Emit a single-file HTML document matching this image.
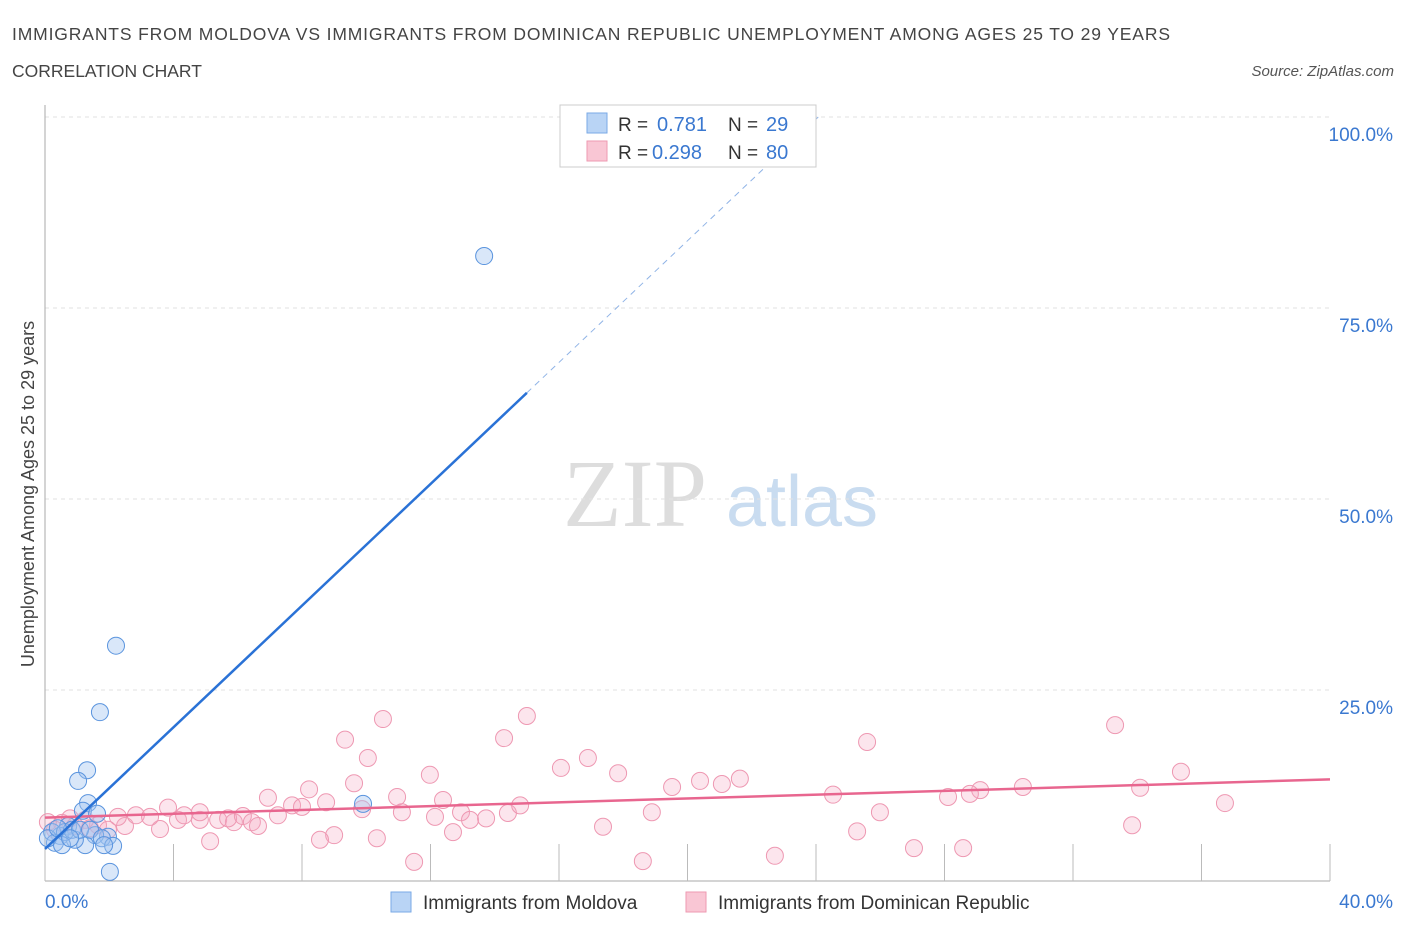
<!DOCTYPE html>
<html><head><meta charset="utf-8"><style>
body{margin:0;background:#fff;font-family:"Liberation Sans",sans-serif;}
</style></head><body>
<svg id="chart" width="1406" height="930" xmlns="http://www.w3.org/2000/svg" font-family="Liberation Sans, sans-serif">
<text x="12" y="40" font-size="17.5" fill="#444" textLength="1158">IMMIGRANTS FROM MOLDOVA VS IMMIGRANTS FROM DOMINICAN REPUBLIC UNEMPLOYMENT AMONG AGES 25 TO 29 YEARS</text>
<text x="12" y="77" font-size="17.5" fill="#444">CORRELATION CHART</text>
<text x="1394" y="76" font-size="15" fill="#555" font-style="italic" text-anchor="end">Source: ZipAtlas.com</text>
<g>
<text x="635" y="526" font-size="96" fill="#ddd" style="font-family:'Liberation Serif',serif" text-anchor="middle">ZIP</text>
<text x="802" y="526" font-size="72" fill="#c9dcf0" text-anchor="middle">atlas</text>
</g>
<g id="grid"></g>
<g id="axes"></g>
<g id="marks"></g>
<text transform="translate(34,494) rotate(-90)" font-size="18" fill="#444" text-anchor="middle">Unemployment Among Ages 25 to 29 years</text>
<g>
<rect x="560" y="105" width="256" height="62" fill="#fff" stroke="#ccc"/>
<rect x="587" y="113" width="20" height="20" fill="#b9d4f5" stroke="#7aaae6"/>
<rect x="587" y="141" width="20" height="20" fill="#f9c6d4" stroke="#ee9ab2"/>
<text x="618" y="131" font-size="19" fill="#333">R = </text><text x="657" y="131" font-size="20" fill="#3a78d0">0.781</text>
<text x="728" y="131" font-size="19" fill="#333">N = </text><text x="766" y="131" font-size="20" fill="#3a78d0">29</text>
<text x="618" y="159" font-size="19" fill="#333">R = </text><text x="652" y="159" font-size="20" fill="#3a78d0">0.298</text>
<text x="728" y="159" font-size="19" fill="#333">N = </text><text x="766" y="159" font-size="20" fill="#3a78d0">80</text>
</g>
<g>
<rect x="391" y="892" width="20" height="20" fill="#b9d4f5" stroke="#7aaae6"/>
<text x="423" y="909" font-size="19" fill="#333">Immigrants from Moldova</text>
<rect x="686" y="892" width="20" height="20" fill="#f9c6d4" stroke="#ee9ab2"/>
<text x="718" y="909" font-size="19" fill="#333">Immigrants from Dominican Republic</text>
</g>
</svg>
<script>
const yTicks=[25,50,75,100];
const yTickLabels=["25.0%","50.0%","75.0%","100.0%"];
const xTicks=[0,4,8,12,16,20,24,28,32,36,40];
const moldovaX=[13.67,2.21,1.71,1.31,1.03,1.34,1.18,1.62,9.9,2.02,1.96,1.56,1.25,0.93,0.72,0.47,0.22,0.31,0.09,0.62,0.84,0.53,1.09,1.4,1.77,2.12,1.84,0.4,0.78];
const moldovaY=[81.8,30.8,22.1,14.5,13.1,10.2,9.2,8.8,10.1,1.2,5.8,6.0,4.7,5.4,7.2,5.9,6.4,5.0,5.6,6.4,6.7,4.7,6.7,6.7,5.6,4.6,4.7,6.9,5.6];
const pinkPx=[[383,719],[345,740],[368,758],[504,738],[527,716],[561,768],[588,758],[618,773],[672,787],[700,781],[722,784],[740,779],[867,742],[1115,725],[1181,772],[1140,788],[1225,803],[1023,787],[980,790],[970,794],[948,797],[833,795],[880,812],[857,831],[914,848],[963,848],[775,856],[1132,825],[643,861],[603,827],[652,812],[430,775],[354,783],[309,789],[268,798],[292,805],[326,802],[302,807],[362,809],[397,797],[402,812],[443,800],[461,812],[435,817],[470,820],[486,818],[508,813],[520,805],[453,832],[414,862],[377,838],[334,835],[320,840],[210,841],[160,829],[125,826],[98,825],[118,817],[136,815],[150,817],[168,808],[178,820],[184,815],[200,820],[218,820],[234,822],[228,818],[243,816],[252,822],[258,826],[278,815],[75,826],[62,823],[55,830],[48,822],[85,820],[108,830],[70,818],[90,828],[200,812]];
const domX=pinkPx.map(p=>+((p[0]-45)/1285*40).toFixed(2));
const domY=pinkPx.map(p=>+((881-p[1])/7.64).toFixed(1));
const moldovaTrend=[4.2,3.98];
const domTrend=[8.3,0.125];
const X0=45,X1=1330,Y0=881,Y1=117;
const xs=v=>X0+v/40*(X1-X0);
const ys=v=>Y0-v/100*(Y0-Y1);
const NS="http://www.w3.org/2000/svg";
function mk(tag,attrs,parent){const e=document.createElementNS(NS,tag);for(const k in attrs)e.setAttribute(k,attrs[k]);parent.appendChild(e);return e;}
const grid=document.getElementById('grid'),axes=document.getElementById('axes'),marks=document.getElementById('marks');
yTicks.forEach((t,i)=>{
 const l=mk('line',{x1:X0,x2:X1,y1:ys(t),y2:ys(t),stroke:'#e2e2e2','stroke-dasharray':'4,4'},grid);
 
 
 const tx=mk('text',{x:1393,y:ys(t)+24,'font-size':19,fill:'#3a78d0','text-anchor':'end'},axes);
 tx.textContent=yTickLabels[i];
 
 
});
mk('line',{x1:X0,x2:X0,y1:105,y2:Y0,stroke:'#aaa'},axes);
mk('line',{x1:X0,x2:X1,y1:Y0,y2:Y0,stroke:'#aaa'},axes);
xTicks.forEach(t=>{const l=mk('line',{x1:xs(t),x2:xs(t),y1:Y0,y2:Y0-37,stroke:'#bbb'},axes);
 
 });
const xl=mk('text',{x:45,y:908,'font-size':19,fill:'#3a78d0'},axes);xl.textContent='0.0%';


const xr=mk('text',{x:1393,y:908,'font-size':19,fill:'#3a78d0','text-anchor':'end'},axes);xr.textContent='40.0%';


domX.forEach((x,i)=>{const c=mk('circle',{cx:xs(x),cy:ys(domY[i]),r:8.5,fill:'rgba(246,170,195,0.3)',stroke:'#ee98b2','stroke-width':1},marks);
 
 });
moldovaX.forEach((x,i)=>{const c=mk('circle',{cx:xs(x),cy:ys(moldovaY[i]),r:8.5,fill:'rgba(160,196,240,0.4)',stroke:'#5a94de','stroke-width':1},marks);
 
 });
const pl=mk('line',{x1:xs(0),y1:ys(domTrend[0]),x2:xs(40),y2:ys(domTrend[0]+domTrend[1]*40),stroke:'#e8668f','stroke-width':2.5},marks);


const xEnd=15,xTop=(100-moldovaTrend[0])/moldovaTrend[1];
const bl=mk('line',{x1:xs(0),y1:ys(moldovaTrend[0]),x2:xs(xEnd),y2:ys(moldovaTrend[0]+moldovaTrend[1]*xEnd),stroke:'#2a72d6','stroke-width':2.5},marks);


const bd=mk('line',{x1:xs(xEnd),y1:ys(moldovaTrend[0]+moldovaTrend[1]*xEnd),x2:xs(xTop),y2:ys(100),stroke:'#8fb3e6','stroke-width':1,'stroke-dasharray':'6,5'},marks);


</script>
</body></html>
